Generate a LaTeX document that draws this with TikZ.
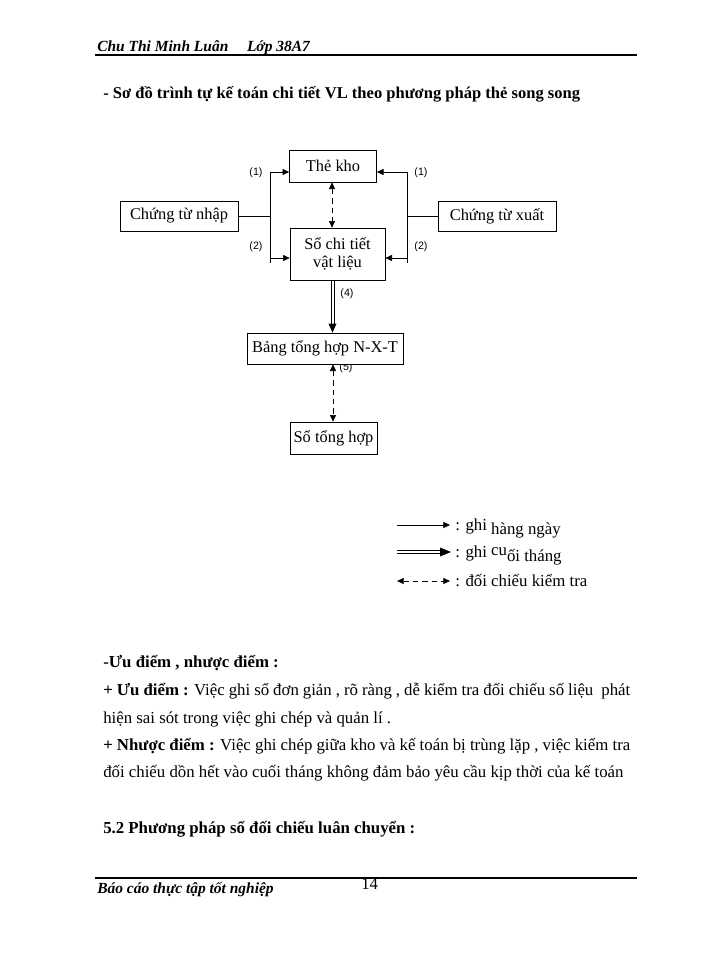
\documentclass[tikz,border=0pt]{standalone}
\usepackage{fontspec}
\setmainfont{Liberation Serif}
\newfontfamily\lsans{Liberation Sans}
\usetikzlibrary{arrows.meta,calc}
\begin{document}
\begin{tikzpicture}[x=0.75pt,y=-0.75pt,
  box/.style={draw, line width=0.5pt, fill=white, inner sep=0pt, align=center, font=\fontsize{12.3}{13.5}\selectfont},
  lab/.style={font=\lsans\fontsize{8}{9}\selectfont, inner sep=0pt},
  arr/.style={line width=0.5pt, -{Triangle[width=4.5pt,length=5pt]}},
  plain/.style={line width=0.5pt},
  darr/.style={line width=0.5pt, dash pattern=on 4pt off 3pt, {Triangle[width=4.5pt,length=5pt]}-{Triangle[width=4.5pt,length=5pt]}},
  txt/.style={font=\fontsize{12.6}{14}\selectfont, inner sep=0pt, anchor=base west},
  rule/.style={line width=1pt}]
\useasboundingbox (0,0) rectangle (700,960);
\fill[white] (0,0) rectangle (700,960);

% header
\node[txt, font=\fontsize{11.6}{13}\selectfont\bfseries\itshape] (hdr) at (97,51) {Chu Thi Minh Luân\hspace{14pt}Lớp 38A7};
\coordinate (hl1) at (95,55); \coordinate (hl2) at (637,55);
\draw[rule] (hl1) -- (hl2);

% title
\node[txt, font=\fontsize{12.4}{14}\selectfont\bfseries] (title) at (103,98) {- Sơ đồ trình tự kế toán chi tiết VL theo phương pháp thẻ song song};

% boxes
\node[box, minimum width=65.25pt, minimum height=24pt] (thekho) at (333,166) {Thẻ kho};
\node[box, minimum width=88.5pt, minimum height=22.5pt] (ctnhap) at (179,216) {Chứng từ nhập};
\node[box, minimum width=88.5pt, minimum height=22.5pt] (ctxuat) at (497,216) {Chứng từ xuất};
\node[box, minimum width=71.25pt, minimum height=39pt] (sochitiet) at (337.5,254) {Sổ chi tiết\\vật liệu};
\node[lab] (l5) at (346,368) {(5)};
\node[box, minimum width=117pt, minimum height=23.25pt] (bang) at (325,348.5) {Bảng tổng hợp N-X-T};
\node[box, minimum width=65.25pt, minimum height=24pt] (sotonghop) at (333.5,438) {Sổ tổng hợp};

% labels
\node[lab] (l1a) at (256,173) {(1)};
\node[lab] (l1b) at (421,173) {(1)};
\node[lab] (l2a) at (256,247) {(2)};
\node[lab] (l2b) at (421,247) {(2)};
\node[lab] (l4) at (347,294) {(4)};

% connectors
\coordinate (jl) at (270,216);
\coordinate (jlt) at (270,172);
\coordinate (jlm) at (270,258);
\coordinate (jlb) at (270,263);
\coordinate (jr) at (407,216);
\coordinate (jrt) at (407,172);
\coordinate (jrm) at (407,258);
\coordinate (jrb) at (407,263);
\draw[plain] (ctnhap.east) -- (jl);
\draw[plain] (jlt) -- (jlb);
\draw[arr] (jlt) -- (jlt -| thekho.west);
\draw[arr] (jlm) -- (jlm -| sochitiet.west);
\draw[plain] (ctxuat.west) -- (jr);
\draw[plain] (jrt) -- (jrb);
\draw[arr] (jrt) -- (jrt -| thekho.east);
\draw[arr] (jrm) -- (jrm -| sochitiet.east);

\coordinate (cx1) at (332,0);
\coordinate (cx2) at (332.5,0);
\coordinate (cx3) at (333,0);
\draw[darr] (thekho.south -| cx1) -- (sochitiet.north -| cx1);
% double arrow (4)
\coordinate (d4a) at (sochitiet.south -| cx2);
\coordinate (d4b) at (bang.north -| cx2);
\draw[plain] ($(d4a)+(-1.6,0)$) -- ($(d4b)+(-1.6,-7)$);
\draw[plain] ($(d4a)+(1.6,0)$) -- ($(d4b)+(1.6,-7)$);
\fill (d4b) -- ++(-4,-9) -- ++(8,0) -- cycle;
\draw[darr] (bang.south -| cx3) -- (sotonghop.north -| cx3);

% legend
\coordinate (g1a) at (397,525); \coordinate (g1b) at (450,525);
\coordinate (g2a) at (397,552); \coordinate (g2b) at (451,552);
\coordinate (g3a) at (397,581); \coordinate (g3b) at (450,581);
\draw[arr] (g1a) -- (g1b);
\draw[plain] ($(g2a)+(0,-1.6)$) -- ($(g2b)+(-9,-1.6)$);
\draw[plain] ($(g2a)+(0,1.6)$) -- ($(g2b)+(-9,1.6)$);
\fill (g2b) -- ++(-11,-4.5) -- ++(0,9) -- cycle;
\draw[darr] (g3a) -- (g3b);
\node[txt] (t1) at (455,530) {: ghi \raisebox{-3pt}{hàng ngày}};
\node[txt] (t2) at (455,557) {: ghi \raisebox{1pt}{cu}\raisebox{-3pt}{ối tháng}};
\node[txt] (t3) at (455,586) {: đối chiếu kiểm tra};

% body
\node[txt] (b1) at (103,667) {\textbf{-Ưu điểm , nhược điểm :}};
\node[txt] (b2) at (103,695) {\makebox[395.25pt][s]{\textbf{+ Ưu điểm :} Việc ghi sổ đơn giản , rõ ràng , dễ kiểm tra đối chiếu số liệu \ phát}};
\node[txt] (b3) at (103,723) {hiện sai sót trong việc ghi chép và quản lí .};
\node[txt] (b4) at (103,750) {\makebox[395.25pt][s]{\textbf{+ Nhược điểm :} Việc ghi chép giữa kho và kế toán bị trùng lặp , việc kiểm tra}};
\node[txt] (b5) at (103,777) {đối chiếu dồn hết vào cuối tháng không đảm bảo yêu cầu kịp thời của kế toán};
\node[txt] (b6) at (103,833) {\textbf{5.2 Phương pháp sổ đối chiếu luân chuyển :}};

% footer
\coordinate (fl1) at (95,878); \coordinate (fl2) at (637,878);
\draw[rule] (fl1) -- (fl2);
\node[txt, font=\fontsize{11.6}{13}\selectfont\bfseries\itshape] (ftr) at (97,893) {Báo cáo thực tập tốt nghiệp};
\node[txt] (pg) at (361,889) {14};
\end{tikzpicture}
\end{document}
